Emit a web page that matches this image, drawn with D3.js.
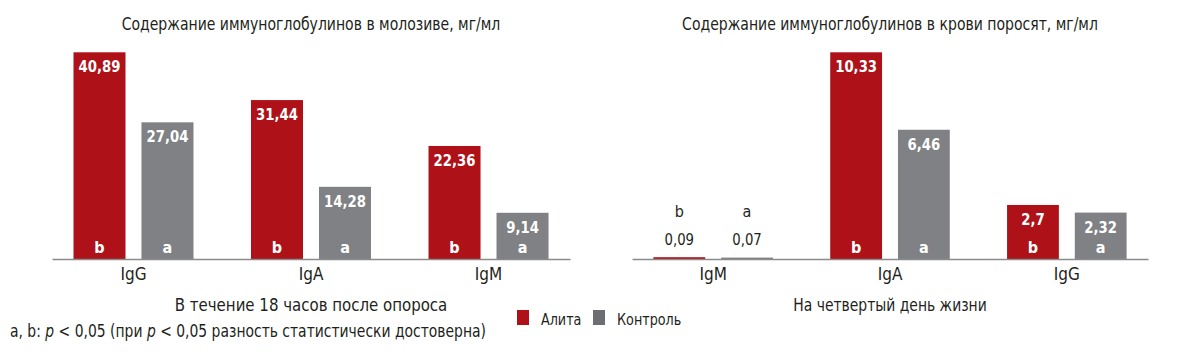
<!DOCTYPE html>
<html>
<head>
<meta charset="utf-8">
<script src="https://cdn.jsdelivr.net/npm/d3@7"></script>
<style>
  html, body { margin: 0; padding: 0; background: #fff; }
  svg { display: block; }
  text { font-family: "Liberation Sans Narrow", "DejaVu Sans Condensed", "Roboto", sans-serif; }
</style>
</head>
<body>
<svg id="chart" width="1200" height="353"></svg>
<script>
// ---- Data ----
const seriesNames = ["Алита", "Контроль"];
const leftTitle = "Содержание иммуноглобулинов в молозиве, мг/мл";
const leftSubtitle = "В течение 18 часов после опороса";
const leftCategories = ["IgG", "IgA", "IgM"];
const leftAlita = [40.89, 31.44, 22.36];
const leftControl = [27.04, 14.28, 9.14];
const leftAlitaLetters = ["b", "b", "b"];
const leftControlLetters = ["a", "a", "a"];

const rightTitle = "Содержание иммуноглобулинов в крови поросят, мг/мл";
const rightSubtitle = "На четвертый день жизни";
const rightCategories = ["IgM", "IgA", "IgG"];
const rightAlita = [0.09, 10.33, 2.7];
const rightControl = [0.07, 6.46, 2.32];
const rightAlitaLetters = ["b", "b", "b"];
const rightControlLetters = ["a", "a", "a"];

const footnote = ["a, b: ", "p", " < 0,05 (при ", "p", " < 0,05 разность статистически достоверна)"];

// ---- Style ----
const colors = ["#ae1118", "#808184"];
const legendColors = ["#ae1118", "#6d6e71"];
const textColor = "#231f20";
const svg = d3.select("#chart");

const baseY = 259, topY = 52.3;
const fmt = v => String(v).replace(".", ",");

function squeeze(sel, k) {
  sel.each(function () {
    const w = this.getComputedTextLength();
    this.setAttribute("textLength", (w * k).toFixed(1));
    this.setAttribute("lengthAdjust", "spacingAndGlyphs");
  });
}

function panel(x0, x1, categories, alita, control, aLet, cLet, title, subtitle, subK) {
  const g = svg.append("g");
  const x = d3.scaleBand().domain(categories).range([x0, x1]).paddingInner(0.324).paddingOuter(0.121);
  const xs = d3.scaleBand().domain([0, 1]).range([0, x.bandwidth()]).paddingInner(0.235);
  const maxV = d3.max(alita.concat(control));
  const y = d3.scaleLinear().domain([0, maxV]).range([baseY, topY]);

  const rows = [];
  categories.forEach((c, i) => {
    rows.push({ cat: c, s: 0, v: alita[i], letter: aLet[i] });
    rows.push({ cat: c, s: 1, v: control[i], letter: cLet[i] });
  });

  g.selectAll("rect.bar").data(rows).join("rect")
    .attr("class", "bar")
    .attr("x", d => x(d.cat) + xs(d.s))
    .attr("y", d => y(d.v))
    .attr("width", xs.bandwidth())
    .attr("height", d => baseY - y(d.v))
    .attr("fill", d => colors[d.s]);

  const cx = d => x(d.cat) + xs(d.s) + xs.bandwidth() / 2;
  const inside = d => baseY - y(d.v) > 30;

  // value labels
  const vals = g.selectAll("text.val").data(rows).join("text")
    .attr("class", "val")
    .attr("x", cx)
    .attr("y", d => inside(d) ? y(d.v) + 20 : baseY - 14)
    .attr("text-anchor", "middle")
    .attr("font-size", 16)
    .attr("font-weight", d => inside(d) ? "bold" : "normal")
    .attr("fill", d => inside(d) ? "#fff" : textColor)
    .text(d => fmt(d.v));
  squeeze(vals, 0.92);

  // significance letters
  g.selectAll("text.let").data(rows).join("text")
    .attr("class", "let")
    .attr("x", cx)
    .attr("y", d => inside(d) ? baseY - 6.5 : baseY - 42)
    .attr("text-anchor", "middle")
    .attr("font-size", 16)
    .attr("font-weight", d => inside(d) ? "bold" : "normal")
    .attr("fill", d => inside(d) ? "#fff" : textColor)
    .text(d => d.letter);

  // axis
  const ax = g.append("g").attr("transform", `translate(0,${baseY})`)
    .call(d3.axisBottom(x).tickSize(0).tickSizeOuter(0).tickPadding(9));
  ax.select(".domain").attr("stroke", "#8a8b8d").attr("stroke-width", 1.5);
  ax.selectAll(".tick text")
    .attr("font-size", 17)
    .attr("fill", textColor)
    .style("font-family", '"Liberation Sans Narrow", "DejaVu Sans Condensed", sans-serif');

  const mid = (x0 + x1) / 2;
  const t = g.append("text").attr("x", mid).attr("y", 30).attr("text-anchor", "middle")
    .attr("font-size", 17.5).attr("fill", textColor).text(title);
  squeeze(t, 0.89);
  const st = g.append("text").attr("x", mid).attr("y", 310.5).attr("text-anchor", "middle")
    .attr("font-size", 17).attr("fill", textColor).text(subtitle);
  squeeze(st, subK);
}

panel(52, 570, leftCategories, leftAlita, leftControl, leftAlitaLetters, leftControlLetters, leftTitle, leftSubtitle, 0.98);
panel(632, 1148, rightCategories, rightAlita, rightControl, rightAlitaLetters, rightControlLetters, rightTitle, rightSubtitle, 0.91);

// legend
const lg = svg.append("g").attr("transform", "translate(517,310)");
const li = lg.selectAll("g").data(seriesNames).join("g")
  .attr("transform", (d, i) => `translate(${i * 76},0)`);
li.append("rect").attr("width", 12).attr("height", 15).attr("fill", (d, i) => legendColors[i]);
const lt = li.append("text").attr("x", 24).attr("y", 14.5).attr("font-size", 16.5).attr("fill", textColor).text(d => d);
squeeze(lt, 0.86);

// footnote
const fn = svg.append("text").attr("x", 0).attr("y", 0)
  .attr("font-size", 17).attr("fill", textColor);
fn.selectAll("tspan").data(footnote).join("tspan")
  .attr("font-style", (d, i) => (i === 1 || i === 3) ? "italic" : "normal")
  .text(d => d);
const fw = fn.node().getComputedTextLength();
fn.attr("transform", `translate(10,337) scale(${(476 / fw).toFixed(3)},1)`);
</script>
</body>
</html>
